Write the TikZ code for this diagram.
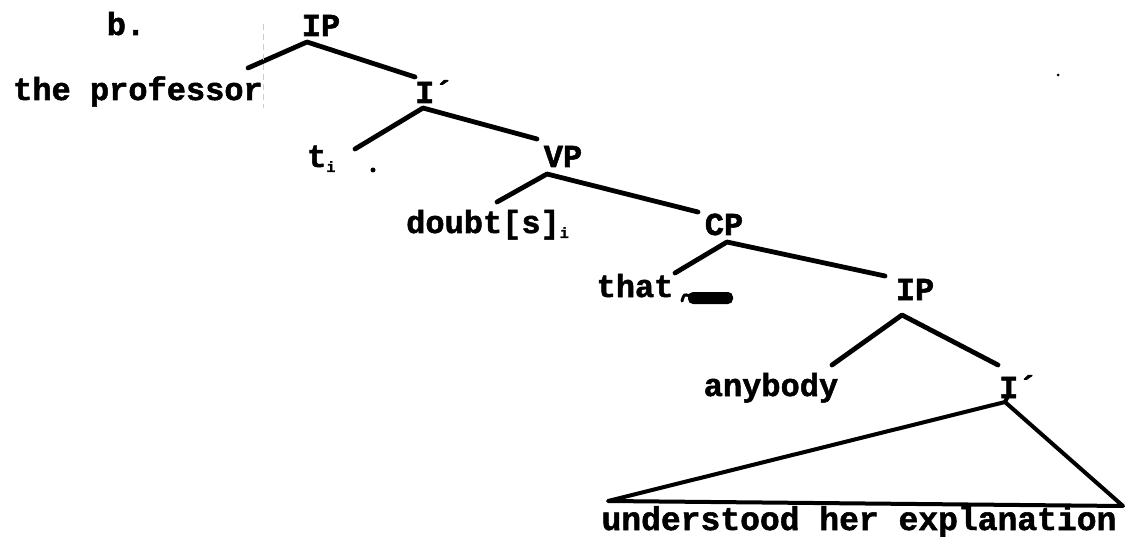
\documentclass[tikz,border=0pt]{standalone}
\usepackage{fontspec}
\setmonofont{Liberation Mono}[BoldFeatures={FakeBold=1.6}]
\begin{document}
\begin{tikzpicture}[x=1pt,y=-1pt,
  lbl/.style={inner sep=0pt,anchor=base,font=\fontsize{32}{32}\selectfont\ttfamily\bfseries},
  branch/.style={line width=4.8pt,line cap=round,line join=round},
  tri/.style={line width=4pt,line cap=round,line join=round}]
\newcommand{\subi}{\raisebox{-5pt}{\fontsize{15}{15}\selectfont i}}
\path[use as bounding box,fill=white] (0,0) rectangle (1131,537);

% labels
\node[lbl] (b) at (126,35) {b.};
\node[lbl] (ip1) at (321,36) {IP};
\node[lbl] (prof) at (138,100) {the professor};
\node[lbl,anchor=base west] (ibar1) at (415,103) {I´};
\node[lbl,anchor=base west] (ti) at (307,167) {t\subi};
\node[lbl] (vp) at (563,167) {VP};
\node[lbl,anchor=base west] (doubt) at (406,233) {doubt[s]\subi};
\node[lbl] (cp) at (724,235) {CP};
\node[lbl] (that) at (635,297) {that};
\node[lbl] (ip2) at (915,300) {IP};
\node[lbl] (anybody) at (771,396) {anybody};
\node[lbl,anchor=base west] (ibar2) at (999,398) {I´};
\node[lbl,font=\fontsize{33}{33}\selectfont\ttfamily\bfseries] (vbar) at (859,530) {understood her explanation};

% branch points
\coordinate (ip1a) at (307,42);
\coordinate (ip1l) at (248,68);
\coordinate (ip1r) at (415,77);
\coordinate (ib1a) at (423,108);
\coordinate (ib1l) at (355,149);
\coordinate (ib1r) at (537,139);
\coordinate (vpa) at (547,174);
\coordinate (vpl) at (497,202);
\coordinate (vpr) at (698,212);
\coordinate (cpa) at (727,242);
\coordinate (cpl) at (675,273);
\coordinate (cpr) at (885,276);
\coordinate (ip2a) at (902,315);
\coordinate (ip2l) at (832,365);
\coordinate (ip2r) at (998,365);
\coordinate (ib2a) at (1005,402);
\coordinate (ib2l) at (608,501);
\coordinate (ib2r) at (1123,506);

\draw[branch] (ip1l) -- (ip1a) -- (ip1r);
\draw[branch] (ib1l) -- (ib1a) -- (ib1r);
\draw[branch] (vpl) -- (vpa) -- (vpr);
\draw[branch] (cpl) -- (cpa) -- (cpr);
\draw[branch] (ip2l) -- (ip2a) -- (ip2r);
\draw[tri] (ib2a) -- (ib2l) -- (ib2r) -- cycle;
\draw[tri] (ib2a) -- (1008,396);

% scan marks
\fill (373,170) circle (2.5pt);
\fill[rounded corners=5pt] (688,292) rectangle (733,304);
\draw[line width=3pt,line cap=round] (682,301) .. controls (684,294) .. (690,296);
\fill (1058,75) circle (1.5pt);
\draw[gray!40,dash pattern=on 6pt off 4pt,line width=0.8pt] (263,24) -- (263,108);
\end{tikzpicture}
\end{document}
